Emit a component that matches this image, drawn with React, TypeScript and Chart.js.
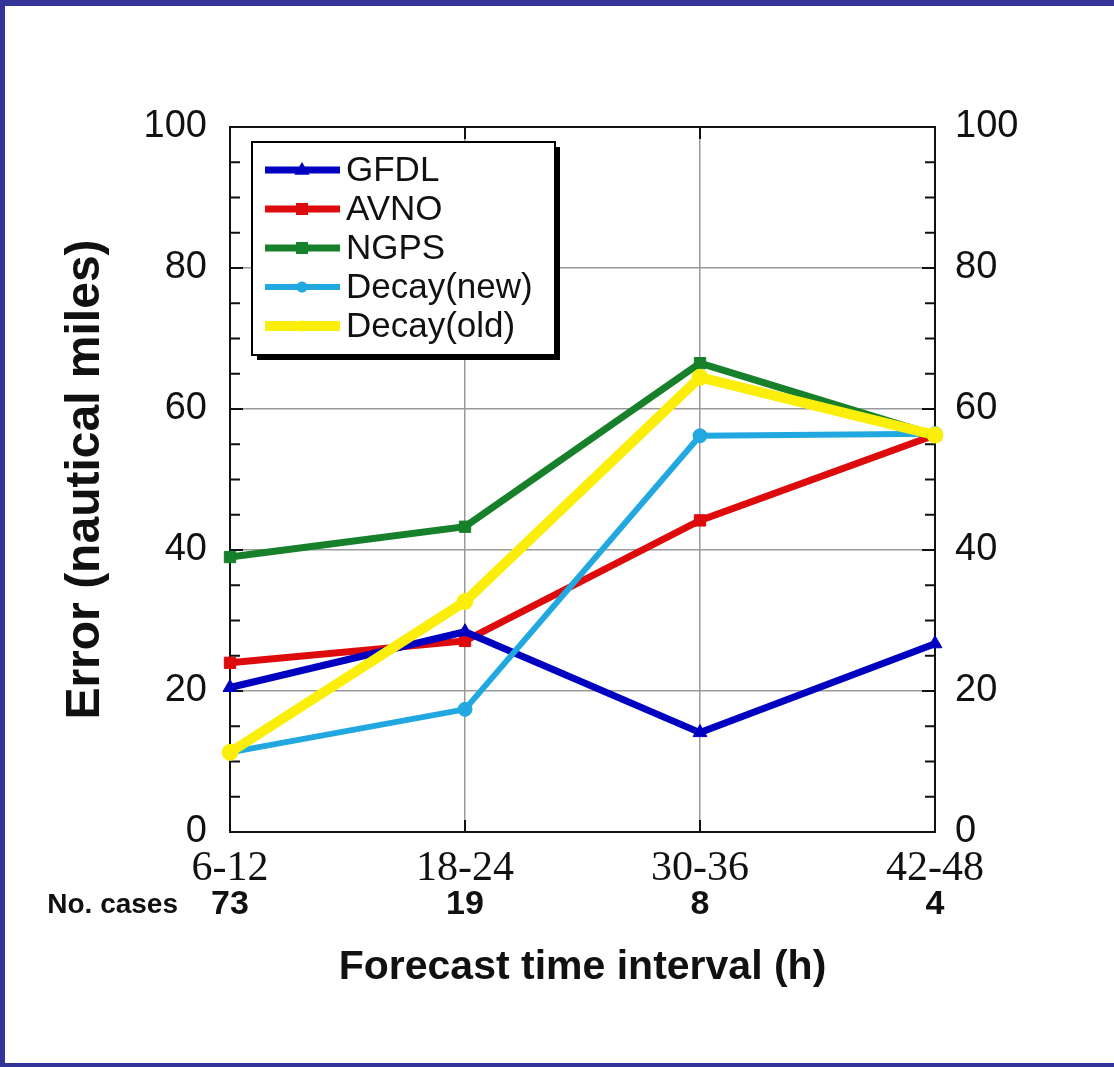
import React, { useEffect, useRef } from 'react';
import { Chart, registerables } from 'chart.js';

Chart.register(...registerables);

// ---- data ----
const categories = ['6-12', '18-24', '30-36', '42-48'];
const numCases = [73, 19, 8, 4];
const seriesNames = ['GFDL', 'AVNO', 'NGPS', 'Decay(new)', 'Decay(old)'];
const gfdl = [20.5, 28.4, 14.1, 26.7];
const avno = [24.0, 27.1, 44.2, 56.3];
const ngps = [39.0, 43.3, 66.5, 56.3];
const decayNew = [11.3, 17.4, 56.2, 56.5];
const decayOld = [11.3, 32.7, 64.5, 56.3];
const yMin = 0;
const yMax = 100;
const yStep = 20;
const yMinorStep = 5;
const yTitle = 'Error (nautical miles)';
const xTitle = 'Forecast time interval (h)';
const casesLabel = 'No. cases';

const SANS = '"Liberation Sans", Arial, Helvetica, sans-serif';
const SERIF = '"Liberation Serif", "Times New Roman", Times, serif';

function drawMarker(ctx: CanvasRenderingContext2D, style: string, x: number, y: number, r: number) {
  ctx.beginPath();
  if (style === 'triangle') {
    ctx.moveTo(x, y - r);
    ctx.lineTo(x + r * 0.95, y + r * 0.6);
    ctx.lineTo(x - r * 0.95, y + r * 0.6);
    ctx.closePath();
  } else if (style === 'rect') {
    const s = r * 0.75;
    ctx.rect(x - s, y - s, 2 * s, 2 * s);
  } else if (style === 'rectRot') {
    ctx.moveTo(x, y - r);
    ctx.lineTo(x + r, y);
    ctx.lineTo(x, y + r);
    ctx.lineTo(x - r, y);
    ctx.closePath();
  } else {
    ctx.arc(x, y, r * 0.7, 0, Math.PI * 2);
  }
  ctx.fill();
}

export default function App() {
  const ref = useRef<HTMLCanvasElement>(null);

  useEffect(() => {
    const canvas = ref.current;
    if (!canvas) return;

    const deco = {
      id: 'deco',
      beforeDatasetsDraw(chart: any) {
        const { ctx, chartArea } = chart;
        const { left, right, top, bottom } = chartArea;
        const ys = chart.scales.y;
        const xs = chart.scales.x;
        ctx.save();
        ctx.strokeStyle = '#111';
        ctx.lineWidth = 2;
        ctx.strokeRect(left, top, right - left, bottom - top);
        for (let v = yMin + yMinorStep; v < yMax; v += yMinorStep) {
          const y = ys.getPixelForValue(v);
          const len = v % yStep === 0 ? 13 : 10;
          ctx.beginPath();
          ctx.moveTo(left, y);
          ctx.lineTo(left + len, y);
          ctx.moveTo(right - len, y);
          ctx.lineTo(right, y);
          ctx.stroke();
        }
        for (let i = 1; i < categories.length - 1; i++) {
          const x = xs.getPixelForValue(i);
          ctx.beginPath();
          ctx.moveTo(x, bottom);
          ctx.lineTo(x, bottom - 12);
          ctx.moveTo(x, top);
          ctx.lineTo(x, top + 12);
          ctx.stroke();
        }
        ctx.restore();
      },
      afterDatasetsDraw(chart: any) {
        const { ctx } = chart;
        // legend box
        const bx = 252, by = 142, bw = 303, bh = 213;
        ctx.save();
        ctx.fillStyle = '#000';
        ctx.fillRect(bx + 5, by + 5, bw, bh);
        ctx.fillStyle = '#fff';
        ctx.fillRect(bx, by, bw, bh);
        ctx.strokeStyle = '#000';
        ctx.lineWidth = 2;
        ctx.strokeRect(bx, by, bw, bh);
        const rowY0 = 170;
        const rowH = 39;
        chart.data.datasets.forEach((ds: any, i: number) => {
          const y = rowY0 + i * rowH;
          ctx.strokeStyle = ds.borderColor;
          ctx.lineWidth = ds.borderWidth;
          ctx.lineCap = 'butt';
          ctx.beginPath();
          ctx.moveTo(265, y);
          ctx.lineTo(340, y);
          ctx.stroke();
          ctx.fillStyle = ds.borderColor;
          drawMarker(ctx, ds.pointStyle, 302, y, 8);
          ctx.fillStyle = '#111';
          ctx.font = `35px ${SANS}`;
          ctx.textAlign = 'left';
          ctx.textBaseline = 'middle';
          ctx.fillText(ds.label, 346, y + 1);
        });
        ctx.restore();
      },
      afterDraw(chart: any) {
        const { ctx } = chart;
        const xs = chart.scales.x;
        ctx.save();
        ctx.fillStyle = '#111';
        ctx.textBaseline = 'middle';
        ctx.font = `bold 28px ${SANS}`;
        ctx.textAlign = 'right';
        ctx.fillText(casesLabel, 178, 905);
        ctx.font = `bold 34px ${SANS}`;
        ctx.textAlign = 'center';
        numCases.forEach((n, i) => {
          ctx.fillText(String(n), xs.getPixelForValue(i), 905);
        });
        ctx.restore();
      },
    };

    const lineDs = (label: string, data: number[], color: string, width: number, style: string, radius: number, order: number) => ({
      label,
      data,
      borderColor: color,
      backgroundColor: color,
      borderWidth: width,
      pointStyle: style,
      pointRadius: radius,
      pointBackgroundColor: color,
      pointBorderColor: color,
      pointBorderWidth: 1,
      tension: 0,
      clip: false as any,
      order,
    });

    const chart = new Chart(canvas, {
      type: 'line',
      data: {
        labels: categories,
        datasets: [
          lineDs(seriesNames[0], gfdl, '#0000c0', 7, 'triangle', 8, 2),
          lineDs(seriesNames[1], avno, '#dd0b0b', 7, 'rect', 8, 3),
          lineDs(seriesNames[2], ngps, '#17802a', 7, 'rect', 8, 4),
          lineDs(seriesNames[3], decayNew, '#22a8e0', 6, 'circle', 7, 1),
          lineDs(seriesNames[4], decayOld, '#fbee0a', 10, 'circle', 8, 0),
        ],
      },
      options: {
        responsive: false,
        animation: false,
        devicePixelRatio: 1,
        layout: { padding: { top: 127, left: 0, right: 0, bottom: 0 } },
        plugins: {
          legend: { display: false },
          tooltip: { enabled: false },
        },
        scales: {
          x: {
            type: 'category',
            offset: false,
            grid: { color: '#9a9a9a', lineWidth: 1.5, drawTicks: false },
            border: { display: false },
            ticks: {
              font: { family: SERIF, size: 42 },
              color: '#111',
              padding: 12,
              maxRotation: 0,
              autoSkip: false,
            },
            title: {
              display: true,
              text: xTitle,
              color: '#111',
              font: { family: SANS, size: 41, weight: 'bold' },
              padding: { top: 0, bottom: 75 },
            },
            afterFit: (s: any) => {
              s.height = 235;
            },
          },
          y: {
            type: 'linear',
            position: 'left',
            min: yMin,
            max: yMax,
            grid: { color: '#9a9a9a', lineWidth: 1.5, drawTicks: false },
            border: { display: false },
            ticks: {
              stepSize: yStep,
              font: { family: SANS, size: 38 },
              color: '#111',
              padding: 23,
            },
            title: {
              display: true,
              text: yTitle,
              color: '#111',
              font: { family: SANS, size: 48, weight: 'bold' },
              padding: { top: 57, bottom: 0 },
            },
            afterFit: (s: any) => {
              s.width = 230;
            },
          },
          y2: {
            type: 'linear',
            position: 'right',
            min: yMin,
            max: yMax,
            grid: { drawOnChartArea: false, drawTicks: false },
            border: { display: false },
            ticks: {
              stepSize: yStep,
              font: { family: SANS, size: 38 },
              color: '#111',
              padding: 20,
            },
            afterFit: (s: any) => {
              s.width = 179;
            },
          },
        },
      } as any,
      plugins: [deco],
    });

    return () => chart.destroy();
  }, []);

  return (
    <div style={{ position: 'absolute', left: 0, top: 0, width: 1114, height: 1067, background: '#fff', overflow: 'hidden' }}>
      <div
        style={{
          position: 'absolute',
          left: 0,
          top: 0,
          width: 1114,
          height: 1067,
          boxSizing: 'border-box',
          borderTop: '6px solid #333399',
          borderLeft: '5px solid #333399',
          borderBottom: '4px solid #333399',
        }}
      />
      <canvas
        ref={ref}
        width={1114}
        height={1067}
        style={{ position: 'absolute', left: 0, top: 0, width: 1114, height: 1067 }}
      />
    </div>
  );
}
